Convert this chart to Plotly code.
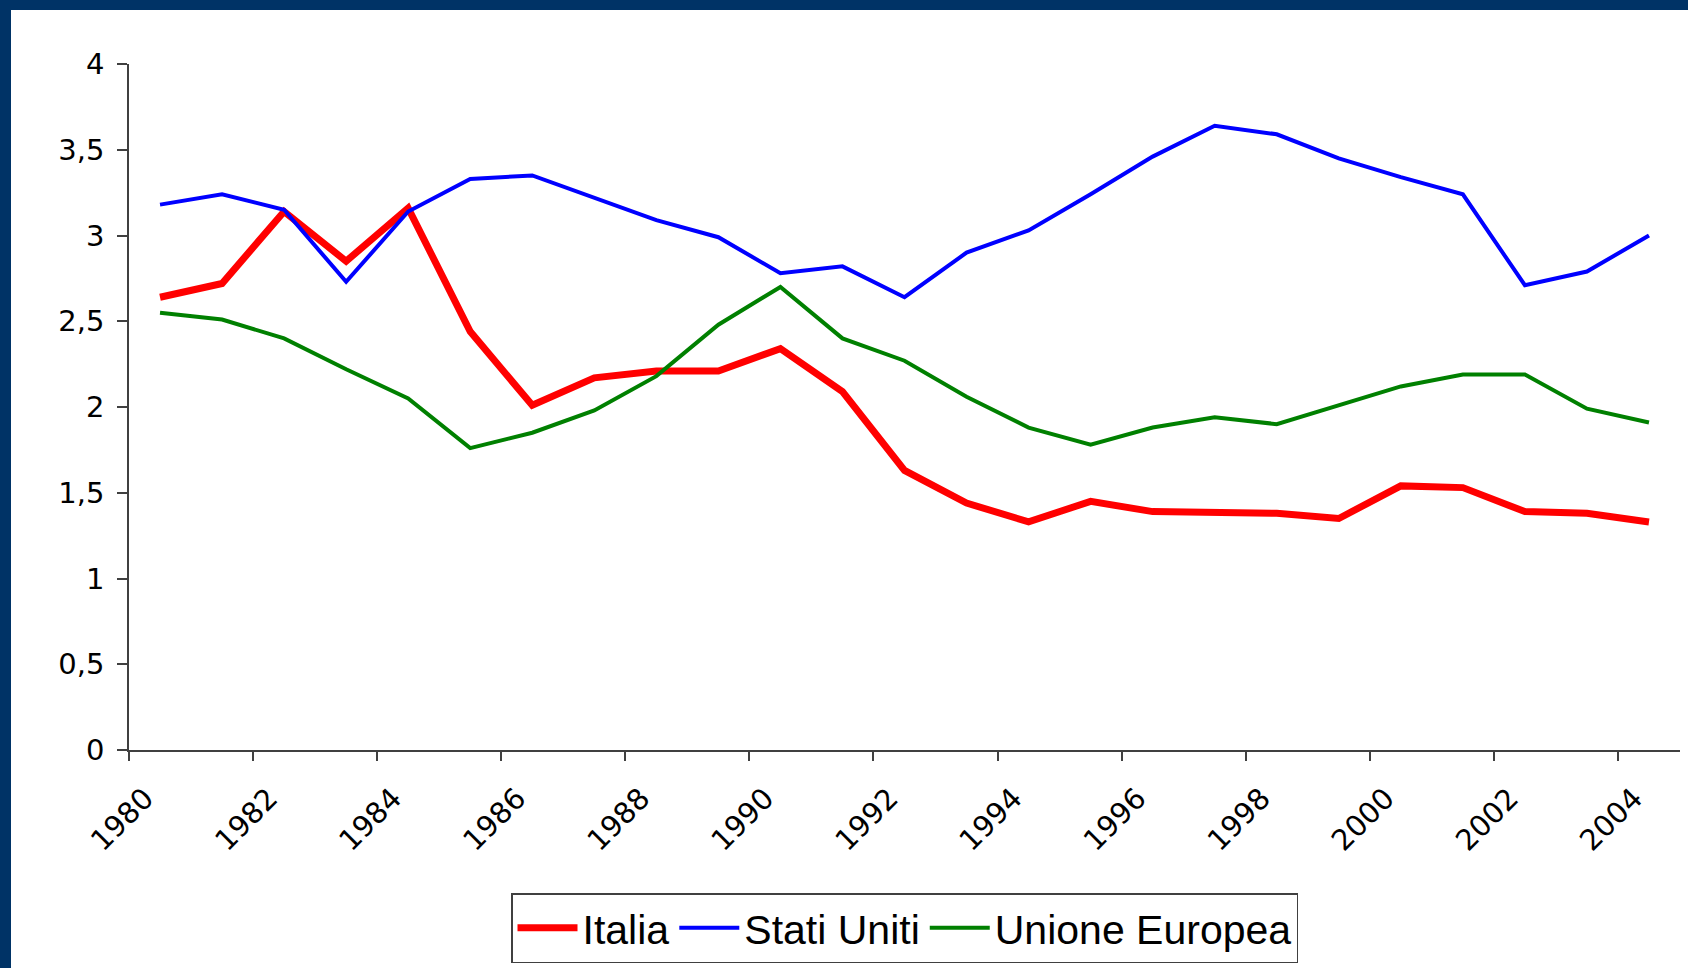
import plotly.graph_objects as go

years = list(range(1980, 2005))
italia = [2.64, 2.72, 3.14, 2.85, 3.16, 2.44, 2.01, 2.17, 2.21, 2.21, 2.34, 2.09, 1.63,
          1.44, 1.33, 1.45, 1.39, 1.38, 1.38, 1.35, 1.54, 1.53, 1.39, 1.38, 1.33]
stati_uniti = [3.18, 3.24, 3.15, 2.73, 3.14, 3.33, 3.35, 3.22, 3.09, 2.99, 2.78, 2.82, 2.64,
               2.90, 3.03, 3.24, 3.46, 3.64, 3.59, 3.45, 3.34, 3.24, 2.71, 2.79, 3.00]
unione_europea = [2.55, 2.51, 2.40, 2.22, 2.05, 1.76, 1.85, 1.98, 2.18, 2.48, 2.70, 2.40, 2.27,
                  2.06, 1.88, 1.78, 1.88, 1.94, 1.90, 2.01, 2.12, 2.19, 2.19, 1.99, 1.91]
tick_years = list(range(1980, 2005, 2))

W, H = 1688, 968
ML, MR, MT, MB = 129, 8, 64, 218
PW, PH = W - ML - MR, H - MT - MB

xs = [y + 0.5 for y in years]

fig = go.Figure()
fig.add_trace(go.Scatter(x=xs, y=italia, mode="lines", name="Italia",
                         line=dict(color="#FF0000", width=7)))
fig.add_trace(go.Scatter(x=xs, y=stati_uniti, mode="lines", name="Stati Uniti",
                         line=dict(color="#0000FF", width=4)))
fig.add_trace(go.Scatter(x=xs, y=unione_europea, mode="lines", name="Unione Europea",
                         line=dict(color="#008000", width=4)))

def px_x(p):
    return (p - ML) / PW

def px_y(p):
    return (H - MB - p) / PH

shapes = [
    dict(type="rect", xref="paper", yref="paper", x0=px_x(0), x1=px_x(11), y0=px_y(H), y1=px_y(0),
         fillcolor="#003366", line=dict(width=0), layer="above"),
    dict(type="rect", xref="paper", yref="paper", x0=px_x(0), x1=px_x(W), y0=px_y(10), y1=px_y(0),
         fillcolor="#003366", line=dict(width=0), layer="above"),
]

tickfont = dict(family="DejaVu Sans", size=29, color="#000000")

fig.update_layout(
    width=W, height=H,
    margin=dict(l=ML, r=MR, t=MT, b=MB, autoexpand=False),
    paper_bgcolor="#FFFFFF", plot_bgcolor="#FFFFFF",
    separators=", ",
    showlegend=True,
    hovermode=False,
    shapes=shapes,
    legend=dict(orientation="h", x=0.5, xanchor="center", y=px_y(893), yanchor="top",
                font=dict(family="Liberation Sans", size=41, color="#000000"),
                bordercolor="#404040", borderwidth=1.5, bgcolor="#FFFFFF",
                itemwidth=60, tracegroupgap=0),
    xaxis=dict(range=[1980, 2005], tickmode="array", tickvals=tick_years,
               ticktext=[str(t) for t in tick_years], tickangle=-45,
               ticks="outside", ticklen=9, tickwidth=1.5, tickcolor="#404040",
               showline=True, linecolor="#404040", linewidth=1.5,
               showgrid=False, zeroline=False, tickfont=tickfont, automargin=False,
               ticklabelshift=16, ticklabelstandoff=9),
    yaxis=dict(range=[0, 4], tickmode="linear", tick0=0, dtick=0.5,
               ticks="outside", ticklen=10, tickwidth=1.5, tickcolor="#404040",
               showline=True, linecolor="#404040", linewidth=1.5,
               showgrid=False, zeroline=False, tickfont=tickfont,
               ticklabelstandoff=7, automargin=False),
)

fig.write_html("out.html", config={"displayModeBar": False},
               post_script="document.body.style.margin='0';document.body.style.overflow='hidden';")
